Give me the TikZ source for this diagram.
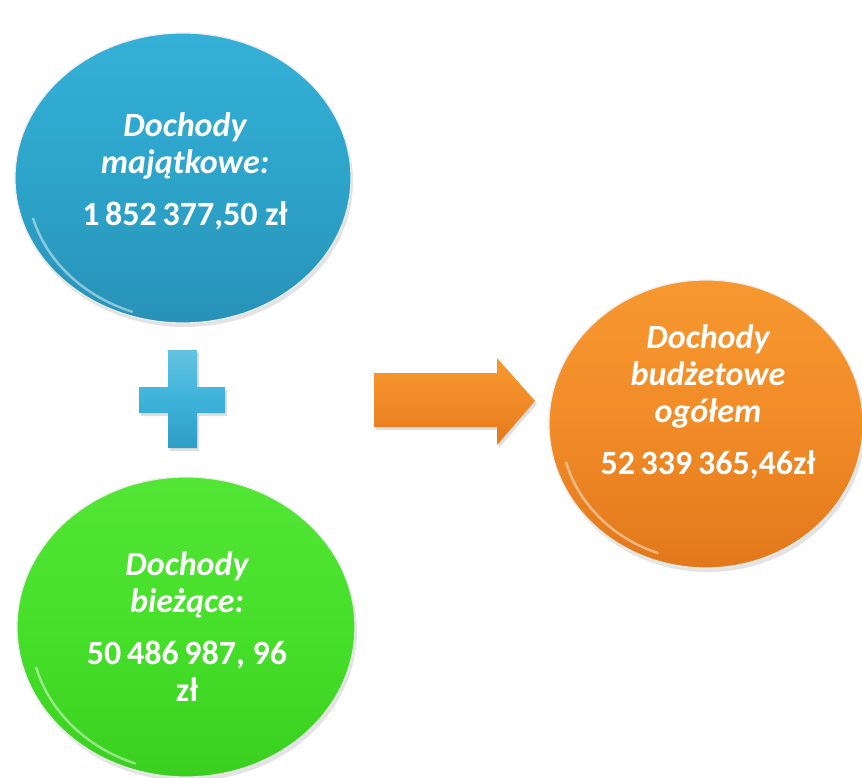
\documentclass[tikz,border=0pt]{standalone}
\usepackage{fontspec}
\newfontfamily\cf{Carlito}
\usetikzlibrary{shapes.geometric,shadows}
\definecolor{bluetop}{HTML}{34B0D7}
\definecolor{bluemid}{HTML}{2DA4CA}
\definecolor{bluebot}{HTML}{2892B8}
\definecolor{greentop}{HTML}{52E535}
\definecolor{greenmid}{HTML}{46E02A}
\definecolor{greenbot}{HTML}{3ACF20}
\definecolor{orangetop}{HTML}{F7982F}
\definecolor{orangemid}{HTML}{F18B27}
\definecolor{orangebot}{HTML}{E2781B}
\definecolor{plusmid}{HTML}{3DB3DA}
\definecolor{plusdark}{HTML}{2F9DC6}
\begin{document}
\begin{tikzpicture}[x=1pt,y=-1pt,
  bubble/.style={ellipse, inner sep=0pt, draw=white!85!gray, line width=1.2pt,
     drop shadow={opacity=0.22, shadow xshift=2pt, shadow yshift=-4pt}},
  label/.style={text=white, align=center, inner sep=0pt,
     font=\cf\bfseries\fontsize{34}{37}\selectfont},
  gloss/.style={white, opacity=0.45, line width=2.5pt}
]
\useasboundingbox (0,0) rectangle (862,778);
\fill[white] (0,0) rectangle (862,778);

% bubbles
\node[bubble, minimum width=336pt, minimum height=290pt,
      top color=bluetop, bottom color=bluebot, middle color=bluemid] (blue) at (183,178) {};
\node[bubble, minimum width=338pt, minimum height=300pt,
      top color=greentop, bottom color=greenbot, middle color=greenmid] (green) at (186,627) {};
\node[bubble, minimum width=314pt, minimum height=288pt,
      top color=orangetop, bottom color=orangebot, middle color=orangemid] (orange) at (706,424) {};

% gloss rims
\draw[gloss] (blue.center) ++(-150,40) arc[start angle=195, end angle=250, x radius=160pt, y radius=138pt];
\draw[gloss] (green.center) ++(-150,40) arc[start angle=195, end angle=250, x radius=160pt, y radius=142pt];
\draw[gloss] (orange.center) ++(-140,38) arc[start angle=195, end angle=250, x radius=148pt, y radius=134pt];

% texts
\node[label] (bluetext) at (185,171) {\itshape Dochody\\ \itshape majątkowe:\\[15pt] 1\,852\,377,50 zł};
\node[label] (greentext) at (187,627) {\itshape Dochody\\ \itshape bieżące:\\[15pt] 50\,486\,987, 96\\ zł};
\node[label] (orangetext) at (708,402) {\itshape Dochody\\ \itshape budżetowe\\ \itshape ogółem\\[15pt] 52\,339\,365,46zł};

% plus sign
\path[top color=plusmid!80!white, bottom color=plusdark, middle color=plusmid,
      drop shadow={opacity=0.25, shadow xshift=2pt, shadow yshift=-3pt}]
  (168,350) -- (197,350) -- (197,387) -- (225,387) -- (225,413) -- (197,413)
  -- (197,448) -- (168,448) -- (168,413) -- (139,413) -- (139,387) -- (168,387) -- cycle;

% arrow
\path[top color=orangetop, bottom color=orangebot, middle color=orangemid,
      drop shadow={opacity=0.25, shadow xshift=2pt, shadow yshift=-3pt}]
  (374,373) -- (497,373) -- (497,358) -- (535,401) -- (497,445) -- (497,427) -- (374,427) -- cycle;
\end{tikzpicture}
\end{document}
